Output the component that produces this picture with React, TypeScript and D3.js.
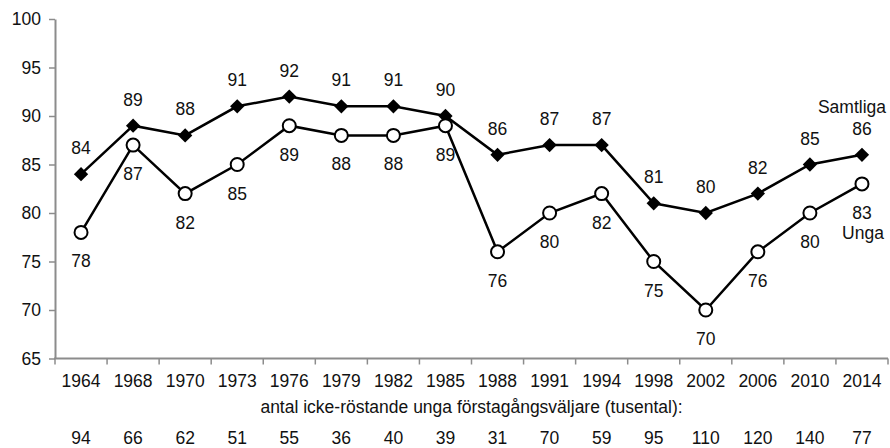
import React, { useEffect, useRef } from 'react';
import * as d3 from 'd3';

const years = ['1964', '1968', '1970', '1973', '1976', '1979', '1982', '1985', '1988', '1991', '1994', '1998', '2002', '2006', '2010', '2014'];
const samtliga = [84, 89, 88, 91, 92, 91, 91, 90, 86, 87, 87, 81, 80, 82, 85, 86];
const unga = [78, 87, 82, 85, 89, 88, 88, 89, 76, 80, 82, 75, 70, 76, 80, 83];
const icke = [94, 66, 62, 51, 55, 36, 40, 39, 31, 70, 59, 95, 110, 120, 140, 77];
const yTicks = [65, 70, 75, 80, 85, 90, 95, 100];

const App = () => {
    const svgRef = useRef<SVGSVGElement>(null);

    useEffect(() => {
        const width = 890;
        const height = 448;
        const left = 55;
        const right = 888;
        const top = 19;
        const bottom = 358.5;
        const font = '17.5px "Liberation Sans", Arial, sans-serif';

        const svg = d3.select(svgRef.current);
        svg.selectAll('*').remove();
        svg.attr('width', width).attr('height', height);

        const x = d3.scaleBand().domain(years).range([left, right]);
        const y = d3.scaleLinear().domain([65, 100]).range([bottom, top]);
        const cx = (i: number) => (x(years[i]) as number) + x.bandwidth() / 2;

        // y axis
        const yAxis = svg.append('g')
            .attr('transform', `translate(${left},0)`)
            .call(d3.axisLeft(y).tickValues(yTicks).tickSize(6).tickPadding(8).tickSizeOuter(0));
        yAxis.select('.domain').attr('stroke', '#8c8c8c').attr('stroke-width', 2);
        yAxis.selectAll('.tick line').attr('stroke', '#8c8c8c').attr('stroke-width', 1.5);
        yAxis.selectAll('.tick text').attr('fill', '#111').style('font', font);

        // x axis (ticks at category boundaries)
        const xg = svg.append('g').attr('transform', `translate(0,${bottom})`);
        xg.append('line').attr('x1', left - 1).attr('x2', right).attr('stroke', '#8c8c8c').attr('stroke-width', 2);
        const bounds = years.map(d => x(d) as number).concat([right]);
        xg.selectAll('line.tk').data(bounds).enter().append('line')
            .attr('class', 'tk')
            .attr('x1', d => d).attr('x2', d => d).attr('y1', 0).attr('y2', 6)
            .attr('stroke', '#8c8c8c').attr('stroke-width', 1.5);
        xg.selectAll('text').data(years).enter().append('text')
            .attr('x', (d, i) => cx(i)).attr('y', 28.5)
            .attr('text-anchor', 'middle').attr('fill', '#111')
            .style('font', font)
            .text(d => d);

        svg.append('text')
            .attr('x', (left + right) / 2).attr('y', 413)
            .attr('text-anchor', 'middle').attr('fill', '#111')
            .style('font', font)
            .text('antal icke-röstande unga förstagångsväljare (tusental):');

        svg.selectAll('text.icke').data(icke).enter().append('text')
            .attr('class', 'icke')
            .attr('x', (d, i) => cx(i)).attr('y', 444)
            .attr('text-anchor', 'middle').attr('fill', '#111')
            .style('font', font)
            .text(d => d);

        const line = d3.line<number>().x((d, i) => cx(i)).y(d => y(d));

        svg.append('path').datum(samtliga).attr('d', line)
            .attr('fill', 'none').attr('stroke', '#000').attr('stroke-width', 2.5);
        svg.append('path').datum(unga).attr('d', line)
            .attr('fill', 'none').attr('stroke', '#000').attr('stroke-width', 2.5);

        const diamond = d3.symbol().type(d3.symbolDiamond2).size(130);
        svg.selectAll('path.dia').data(samtliga).enter().append('path')
            .attr('class', 'dia')
            .attr('d', diamond)
            .attr('transform', (d, i) => `translate(${cx(i)},${y(d)})`)
            .attr('fill', '#000');

        svg.selectAll('circle.pt').data(unga).enter().append('circle')
            .attr('class', 'pt')
            .attr('cx', (d, i) => cx(i)).attr('cy', d => y(d))
            .attr('r', 6.5)
            .attr('fill', '#fff').attr('stroke', '#000').attr('stroke-width', 2);

        svg.selectAll('text.sl').data(samtliga).enter().append('text')
            .attr('class', 'sl')
            .attr('x', (d, i) => cx(i)).attr('y', d => y(d) - 20)
            .attr('text-anchor', 'middle').attr('fill', '#111')
            .style('font', font)
            .text(d => d);

        svg.selectAll('text.ul').data(unga).enter().append('text')
            .attr('class', 'ul')
            .attr('x', (d, i) => cx(i)).attr('y', d => y(d) + 35)
            .attr('text-anchor', 'middle').attr('fill', '#111')
            .style('font', font)
            .text(d => d);

        const last = years.length - 1;
        svg.append('text')
            .attr('x', cx(last) - 10).attr('y', y(samtliga[last]) - 42)
            .attr('text-anchor', 'middle').attr('fill', '#111')
            .style('font', font)
            .text('Samtliga');
        svg.append('text')
            .attr('x', cx(last) + 1).attr('y', y(unga[last]) + 55)
            .attr('text-anchor', 'middle').attr('fill', '#111')
            .style('font', font)
            .text('Unga');
    }, []);

    return <svg ref={svgRef} style={{ position: 'absolute', left: 0, top: 0 }}></svg>;
};

export default App;
